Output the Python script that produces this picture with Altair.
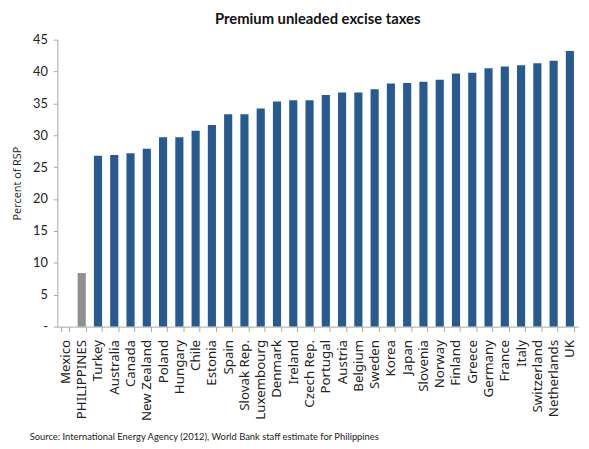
import altair as alt
import pandas as pd

countries = ["Mexico", "PHILIPPINES", "Turkey", "Australia", "Canada", "New Zealand",
             "Poland", "Hungary", "Chile", "Estonia", "Spain", "Slovak Rep.", "Luxembourg",
             "Denmark", "Ireland", "Czech Rep.", "Portugal", "Austria", "Belgium", "Sweden",
             "Korea", "Japan", "Slovenia", "Norway", "Finland", "Greece", "Germany", "France",
             "Italy", "Switzerland", "Netherlands", "UK"]
values = [0.0, 8.4, 26.8, 26.9, 27.2, 27.9,
          29.7, 29.7, 30.7, 31.6, 33.3, 33.3, 34.2,
          35.3, 35.5, 35.5, 36.3, 36.7, 36.7, 37.2,
          38.1, 38.2, 38.4, 38.7, 39.7, 39.8, 40.5, 40.8,
          41.0, 41.3, 41.7, 43.2]
groups = ["other", "ph"] + ["other"] * (len(countries) - 2)

df = pd.DataFrame({"country": countries, "value": values, "group": groups})

bars = alt.Chart(df).mark_bar().encode(
    x=alt.X("country:N", sort=countries, title=None,
            scale=alt.Scale(paddingInner=0.5, paddingOuter=0.25),
            axis=alt.Axis(labelAngle=-90, labelFont="Noto Sans", labelFontSize=13.5,
                          labelColor="#222222", domainColor="#a6a6a6", tickColor="#a6a6a6",
                          tickBand="extent", tickSize=5, labelPadding=8, labelAlign="right",
                          labelBaseline="middle", labelLimit=0)),
    y=alt.Y("value:Q", title="Percent of RSP",
            scale=alt.Scale(domain=[0, 45], nice=False),
            axis=alt.Axis(values=list(range(0, 46, 5)), grid=False,
                          labelExpr="datum.value == 0 ? '-' : datum.label",
                          labelFont="Lato", labelFontSize=13,
                          labelColor="#222222", domainColor="#a6a6a6", tickColor="#a6a6a6",
                          tickSize=4, labelPadding=6,
                          titleFont="Open Sans", titleFontSize=11, titleFontWeight="normal",
                          titleColor="#222222", titlePadding=10)),
    color=alt.Color("group:N", scale=alt.Scale(domain=["other", "ph"],
                                               range=["#275b8f", "#8f8f8f"]), legend=None),
)

source = alt.Chart(pd.DataFrame({"t": ["Source: International Energy Agency (2012), World Bank staff estimate for Philippines"]})).mark_text(
    font="Lato", fontSize=9.5, align="left", baseline="middle", color="#222222"
).encode(text="t:N", x=alt.value(-28), y=alt.value(403))

chart = alt.layer(bars, source).properties(
    width=528, height=291,
    autosize=alt.AutoSizeParams(type="none"),
    padding={"left": 50, "top": 29, "right": 3, "bottom": 118},
    title=alt.TitleParams("Premium unleaded excise taxes", font="Lato",
                          fontSize=15, fontWeight="bold", color="#111111",
                          anchor="middle", offset=7),
).configure_view(stroke=None)

chart.save("out.html", embed_options={"renderer": "svg", "actions": False})
